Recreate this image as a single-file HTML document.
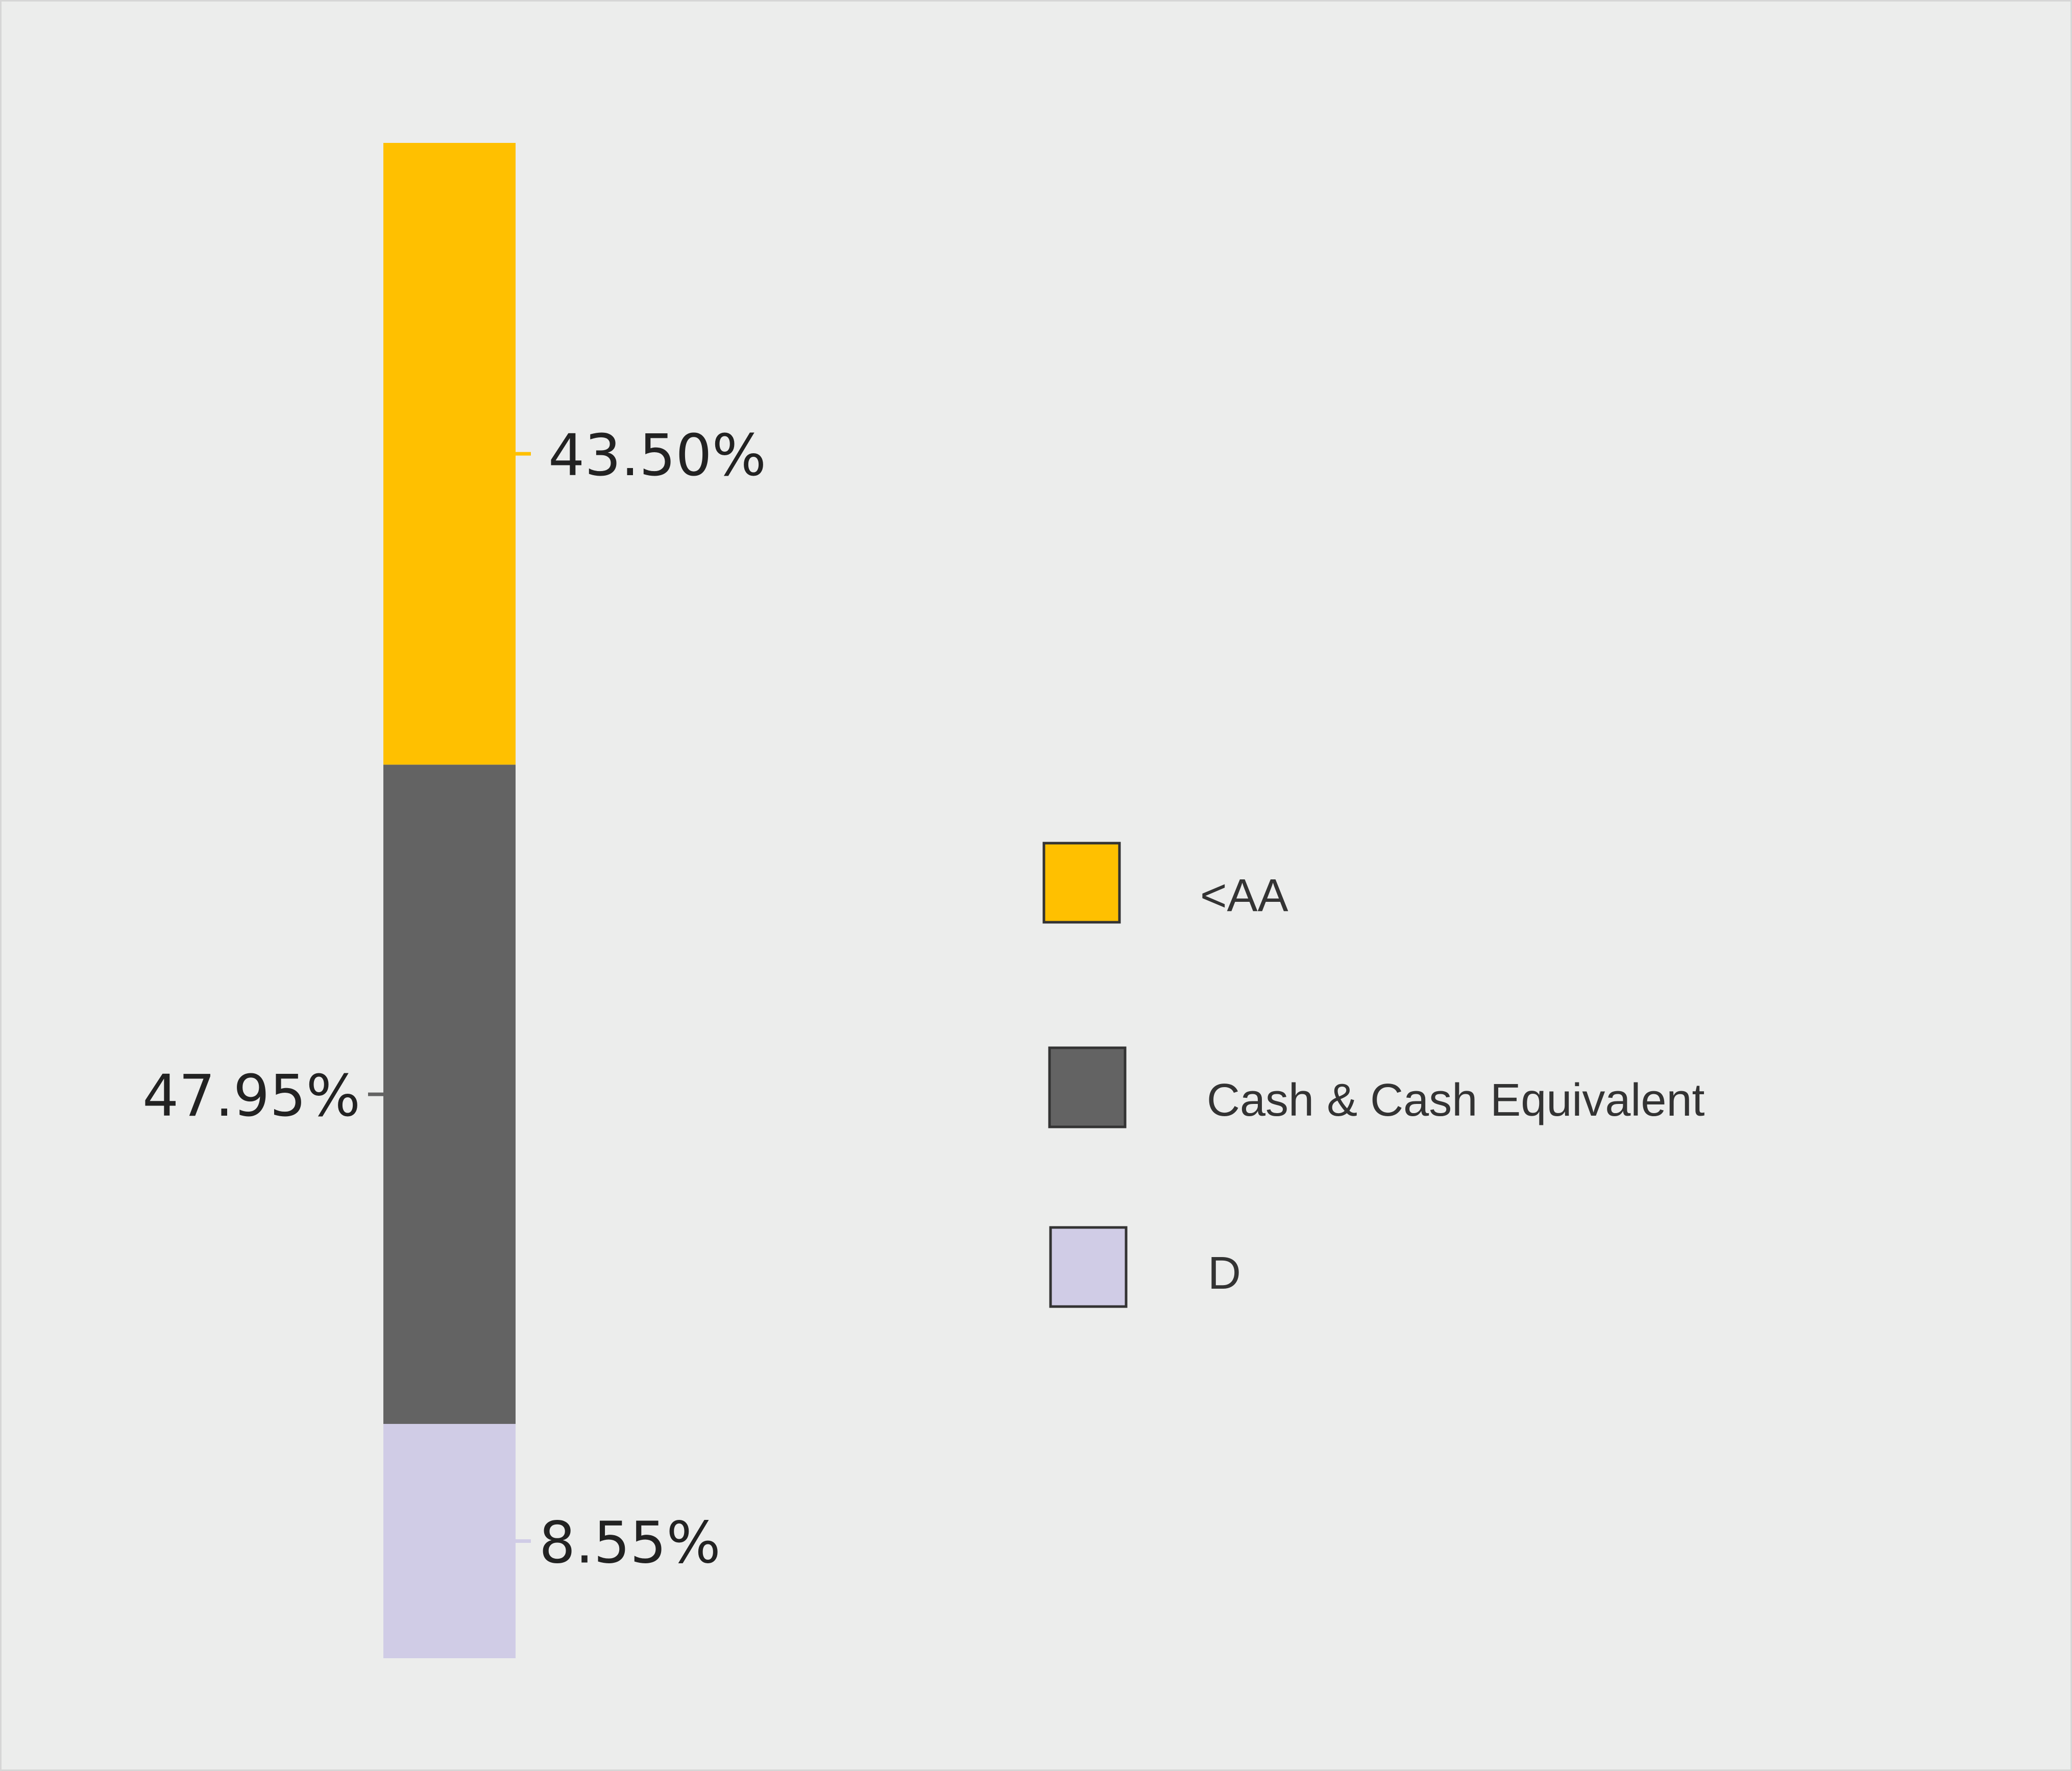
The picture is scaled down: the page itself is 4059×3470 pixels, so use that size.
<!DOCTYPE html>
<html><head><meta charset="utf-8"><style>
html,body{margin:0;padding:0;background:#ecedec;}
svg{display:block;}
</style></head><body>
<svg id="chart" xmlns="http://www.w3.org/2000/svg" width="4059" height="3470" viewBox="0 0 4059 3470">
<rect x="1.5" y="1.5" width="4056" height="3467" fill="#ecedec" stroke="#d6d6d6" stroke-width="3"/>
<g id="bars"></g>
<g id="labels"></g>
<g id="legend"></g>
</svg>
<script>
const categories = ["<AA", "Cash & Cash Equivalent", "D"];
const values = [43.50, 47.95, 8.55];
const valueLabels = ["43.50%", "47.95%", "8.55%"];
const colors = ["#ffc000", "#636363", "#d0cce6"];

const NS = "http://www.w3.org/2000/svg";
const barX = 751, barW = 259, barTop = 280, barBottom = 3249;
// displayed segment heights follow a compressed (power) scale
const weights = values.map(v => Math.pow(v, 0.6));
const wTotal = weights.reduce((a, b) => a + b, 0);
function yScale(cum) { return barTop + (barBottom - barTop) * cum / wTotal; }

const barsG = document.getElementById('bars');
const labelsG = document.getElementById('labels');
const legendG = document.getElementById('legend');
let cum = 0;
values.forEach((v, i) => {
  const y0 = yScale(cum); cum += weights[i]; const y1 = yScale(cum);
  const r = document.createElementNS(NS, 'rect');
  
  
  r.setAttribute('x', barX); r.setAttribute('y', y0);
  r.setAttribute('width', barW); r.setAttribute('height', y1 - y0);
  r.setAttribute('fill', colors[i]);
  barsG.appendChild(r);
  const cy = (y0 + y1) / 2;
  const left = (i === 1);
  const tk = document.createElementNS(NS, 'line');
  
  
  tk.setAttribute('x1', left ? barX - 30 : barX + barW);
  tk.setAttribute('x2', left ? barX : barX + barW + 30);
  tk.setAttribute('y1', cy); tk.setAttribute('y2', cy);
  tk.setAttribute('stroke', colors[i]); tk.setAttribute('stroke-width', 7);
  labelsG.appendChild(tk);
  const t = document.createElementNS(NS, 'text');
  
  
  t.setAttribute('x', left ? barX - 45 : barX + barW + (i === 0 ? 64 : 46));
  t.setAttribute('y', cy + 42);
  t.setAttribute('text-anchor', left ? 'end' : 'start');
  t.setAttribute('font-family', 'DejaVu Sans, sans-serif');
  t.setAttribute('font-size', '112');
  t.setAttribute('fill', '#222');
  t.textContent = valueLabels[i];
  labelsG.appendChild(t);

  const ly = [1652, 2053, 2405][i], lx = [2045, 2056, 2058][i];
  const sw = document.createElementNS(NS, 'rect');
  
  
  sw.setAttribute('x', lx); sw.setAttribute('y', ly);
  sw.setAttribute('width', 148); sw.setAttribute('height', 155);
  sw.setAttribute('fill', colors[i]); sw.setAttribute('stroke', '#333'); sw.setAttribute('stroke-width', 5);
  legendG.appendChild(sw);
  const lt = document.createElementNS(NS, 'text');
  
  
  lt.setAttribute('x', [2351, 2364, 2366][i]);
  lt.setAttribute('y', [1785, 2186, 2525][i]);
  lt.setAttribute('font-family', 'Liberation Sans, sans-serif');
  lt.setAttribute('font-size', '90');
  lt.setAttribute('fill', '#333');
  lt.textContent = categories[i];
  legendG.appendChild(lt);
});
</script>
</body></html>
